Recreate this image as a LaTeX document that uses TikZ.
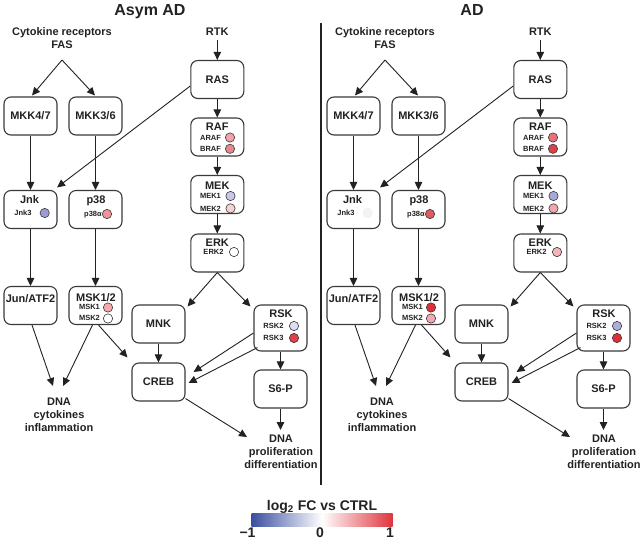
\documentclass[tikz,border=0pt]{standalone}
\usepackage{fontspec}
\setmainfont{Liberation Sans}
\usetikzlibrary{arrows.meta,calc}
\definecolor{ink}{HTML}{222222}
\definecolor{boxline}{HTML}{3A3A3A}
\definecolor{lowblue}{HTML}{3B4FA0}
\definecolor{highred}{HTML}{E0343C}

\newcommand\drawpanel{%
  \node[lbl] (cyto) at (62,38.5) {Cytokine receptors\\FAS};
  \coordinate (fork) at (62,60);
  \node[lbl] (rtk) at (217.3,32) {RTK};
  \node[box] (mkk47) at (30.5,116) {MKK4/7};
  \node[box] (mkk36) at (95.5,116) {MKK3/6};
  \node[box] (ras) at (217.3,79.5) {RAS};
  % RAF
  \node[box] (raf) at (217.3,137) {};
  \node[ttl] (raft) at (217.3,130.5) {RAF};
  \node[sub] (arafl) at (210.5,140) {ARAF};
  \node[dot, fill=c-araf] (arafc) at (230,137.5) {};
  \node[sub] (brafl) at (210.5,151.5) {BRAF};
  \node[dot, fill=c-braf] (brafc) at (230,148.8) {};
  % MEK
  \node[box] (mek) at (217.3,194.5) {};
  \node[ttl] (mekt) at (217.3,189) {MEK};
  \node[sub] (mek1l) at (210.5,198.6) {MEK1};
  \node[dot, fill=c-mek1] (mek1c) at (230.5,196) {};
  \node[sub] (mek2l) at (210.5,211) {MEK2};
  \node[dot, fill=c-mek2] (mek2c) at (230.5,208.4) {};
  % ERK
  \node[box] (erk) at (217.3,253) {};
  \node[ttl] (erkt) at (217.3,246) {ERK};
  \node[sub] (erk2l) at (213.5,254.7) {ERK2};
  \node[dot, fill=c-erk2] (erk2c) at (234,252) {};
  % Jnk
  \node[box] (jnk) at (30.5,209.5) {};
  \node[ttl] (jnkt) at (29.5,203) {Jnk};
  \node[sub] (jnk3l) at (23,215.7) {Jnk3};
  \node[dot, fill=c-jnk3, draw=d-jnk3] (jnk3c) at (44.7,213) {};
  % p38
  \node[box] (p38) at (95.5,209.5) {};
  \node[ttl] (p38t) at (96,203) {p38};
  \node[sub] (p38al) at (93,216.7) {p38α};
  \node[dot, fill=c-p38a] (p38ac) at (107,214) {};
  % Jun/ATF2
  \node[box] (jun) at (30.5,305.5) {};
  \node[ttl] (junt) at (30.5,302) {Jun/ATF2};
  % MSK1/2
  \node[box] (msk) at (95.5,305.5) {};
  \node[ttl] (mskt) at (96,301) {MSK1/2};
  \node[sub] (msk1l) at (89.5,309.9) {MSK1};
  \node[dot, fill=c-msk1] (msk1c) at (108,307.5) {};
  \node[sub] (msk2l) at (89.5,320.9) {MSK2};
  \node[dot, fill=c-msk2] (msk2c) at (108,318.5) {};
  % MNK, RSK, CREB, S6-P
  \node[box] (mnk) at (158.5,324) {MNK};
  \node[box, minimum height=46pt] (rsk) at (280.5,328) {};
  \node[ttl] (rskt) at (281,317) {RSK};
  \node[sub] (rsk2l) at (273.5,328.8) {RSK2};
  \node[dot, fill=c-rsk2] (rsk2c) at (294,326) {};
  \node[sub] (rsk3l) at (273.5,340.8) {RSK3};
  \node[dot, fill=c-rsk3] (rsk3c) at (294,338) {};
  \node[box] (creb) at (158.5,382) {CREB};
  \node[box] (s6p) at (280.5,389) {S6-P};
  % outputs
  \node[lbl] (dna1) at (59,415) {DNA\\cytokines\\inflammation};
  \node[lbl] (dna2) at (281,452) {DNA\\proliferation\\differentiation};
  \coordinate (d1a) at (53,386);
  \coordinate (d1b) at (63,386);
  \coordinate (d2a) at (247,437);
  \coordinate (d2b) at (280.5,430);
  % connectors
  \draw[arr] (fork) -- ($(mkk47.north)+(1.5,-1)$);
  \draw[arr] (fork) -- ($(mkk36.north)+(-0.5,-1)$);
  \draw[arr] ($(rtk.south)+(0,4)$) -- (ras.north);
  \draw[arr] (ras.south) -- (raf.north);
  \draw[arr] (raf.south) -- (mek.north);
  \draw[arr] (mek.south) -- (erk.north);
  \draw[arr] ($(ras.west)+(0,6.5)$) -- ($(jnk.north east)+(-0.5,-2.5)$);
  \draw[arr] (mkk47.south) -- (jnk.north);
  \draw[arr] (mkk36.south) -- (p38.north);
  \draw[arr] (jnk.south) -- (jun.north);
  \draw[arr] (p38.south) -- (msk.north);
  \draw[arr] (erk.south) -- ($(mnk.north east)+(2,2)$);
  \draw[arr] (erk.south) -- ($(rsk.north west)+(-3,2)$);
  \draw[arr] (mnk.south) -- (creb.north);
  \draw[arr] ($(msk.south)+(3,0)$) -- ($(creb.north west)+(-4,-5)$);
  \draw[arr] ($(msk.south)+(-3,0)$) -- (d1b);
  \draw[arr] ($(jun.south)+(1.5,0)$) -- (d1a);
  \draw[arr] ($(rsk.west)+(0,5)$) -- ($(creb.east)+(8,-10)$);
  \draw[arr] ($(rsk.south west)+(4,-4)$) -- ($(creb.east)+(3,1)$);
  \draw[arr] (rsk.south) -- (s6p.north);
  \draw[arr] ($(creb.south east)+(0,-3)$) -- (d2a);
  \draw[arr] (s6p.south) -- (d2b);
}

\begin{document}
\begin{tikzpicture}[x=1pt,y=-1pt,
  box/.style={draw=boxline, line width=1.1pt, rounded corners=7pt,
    minimum width=53pt, minimum height=38pt, inner sep=0pt, fill=white,
    font=\fontsize{11}{13}\selectfont\bfseries, text=ink},
  ttl/.style={anchor=base, inner sep=0pt,
    font=\fontsize{11}{13}\selectfont\bfseries, text=ink},
  sub/.style={anchor=base, inner sep=0pt,
    font=\fontsize{7.5}{9}\selectfont\bfseries, text=ink},
  dot/.style={circle, draw=boxline, line width=0.6pt, minimum size=9.3pt, inner sep=0pt},
  lbl/.style={align=center, inner sep=0pt,
    font=\fontsize{11}{13}\selectfont\bfseries, text=ink},
  arr/.style={draw=ink, line width=0.9pt, -{Triangle[length=8pt,width=7.5pt]}},
  legtxt/.style={anchor=base, inner sep=0pt, font=\fontsize{14}{16}\selectfont\bfseries, text=ink}]
\useasboundingbox[fill=white] (0,0) rectangle (643,539);

\node[anchor=base, inner sep=0pt, font=\fontsize{16}{19}\selectfont\bfseries, text=ink] (t1) at (150,15) {Asym AD};
\node[anchor=base, inner sep=0pt, font=\fontsize{16}{19}\selectfont\bfseries, text=ink] (t2) at (472,15) {AD};
\draw[draw=ink, line width=1.4pt] (321,23) -- (321,485);

\begin{scope}[name prefix=L-]
  \definecolor{c-araf}{HTML}{F2A3AA}
  \definecolor{c-braf}{HTML}{E8878E}
  \definecolor{c-mek1}{HTML}{C8C8E6}
  \definecolor{c-mek2}{HTML}{F6D0D2}
  \definecolor{c-erk2}{HTML}{FFFFFF}
  \definecolor{c-jnk3}{HTML}{9C9CD4}
  \definecolor{d-jnk3}{HTML}{3A3A3A}
  \definecolor{c-p38a}{HTML}{F09499}
  \definecolor{c-msk1}{HTML}{F4AAAE}
  \definecolor{c-msk2}{HTML}{FFFFFF}
  \definecolor{c-rsk2}{HTML}{DDDDF0}
  \definecolor{c-rsk3}{HTML}{E0404A}
  \drawpanel
\end{scope}

\begin{scope}[xshift=323pt, name prefix=R-]
  \definecolor{c-araf}{HTML}{E6727C}
  \definecolor{c-braf}{HTML}{DC4048}
  \definecolor{c-mek1}{HTML}{A8A8D8}
  \definecolor{c-mek2}{HTML}{F0A8AE}
  \definecolor{c-erk2}{HTML}{F4B4B8}
  \definecolor{c-jnk3}{HTML}{F3F3F5}
  \definecolor{d-jnk3}{HTML}{F0F0F2}
  \definecolor{c-p38a}{HTML}{E05A60}
  \definecolor{c-msk1}{HTML}{DC3038}
  \definecolor{c-msk2}{HTML}{F2AAAE}
  \definecolor{c-rsk2}{HTML}{ADADDB}
  \definecolor{c-rsk3}{HTML}{DD3038}
  \drawpanel
\end{scope}

% legend
\node[legtxt] (legt) at (322,510.5) {log\textsubscript{2} FC vs CTRL};
\node[inner sep=0pt, minimum width=141pt, minimum height=13pt,
  left color=lowblue, right color=highred, middle color=white] (bar) at (322,519.5) {};
\node[legtxt] (lm1) at (247.5,537.3) {−1};
\node[legtxt] (l0) at (320,537.3) {0};
\node[legtxt] (l1) at (390,537.3) {1};
\end{tikzpicture}
\end{document}
